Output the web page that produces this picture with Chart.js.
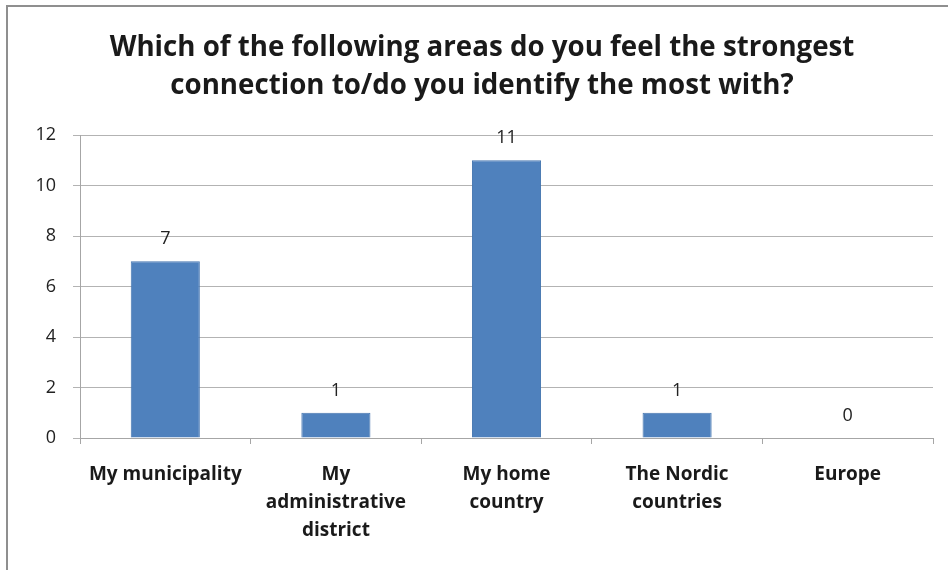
<!DOCTYPE html>
<html>
<head>
<meta charset="utf-8">
<script src="https://cdn.jsdelivr.net/npm/chart.js@4"></script>
<style>
  html, body { margin: 0; padding: 0; background: #fff; }
  #wrap { position: absolute; left: 0; top: 0; width: 948px; height: 570px; }
  #frame {
    position: absolute; left: 6px; top: 5px; right: 0; bottom: 0;
    border-left: 2px solid #8f8f8f; border-top: 2px solid #8f8f8f;
    pointer-events: none;
  }
</style>
</head>
<body>
<div id="wrap">
  <canvas id="chart" width="948" height="570"></canvas>
  <div id="frame"></div>
</div>
<script>
const titleLines = [
  'Which of the following areas do you feel the strongest',
  'connection to/do you identify the most with?'
];
const categories = [
  ['My municipality'],
  ['My', 'administrative', 'district'],
  ['My home', 'country'],
  ['The Nordic', 'countries'],
  ['Europe']
];
const counts = [7, 1, 11, 1, 0];
const yTicks = [0, 2, 4, 6, 8, 10, 12];

const FONT = '"Open Sans", Lato, sans-serif';

// Prints each bar's value a little above its top edge
const valueLabels = {
  id: 'valueLabels',
  afterDatasetsDraw(chart) {
    const ctx = chart.ctx;
    const meta = chart.getDatasetMeta(0);
    ctx.save();
    ctx.font = '18px ' + FONT;
    ctx.fillStyle = '#222';
    ctx.textAlign = 'center';
    ctx.textBaseline = 'middle';
    meta.data.forEach((bar, i) => {
      ctx.fillText(String(counts[i]), bar.x, bar.y - 22);
    });
    ctx.restore();
  }
};

new Chart(document.getElementById('chart'), {
  type: 'bar',
  data: {
    labels: categories,
    datasets: [{
      data: counts,
      backgroundColor: '#4f81bd',
      borderColor: '#4576b0',
      borderWidth: 1,
      categoryPercentage: 1,
      barPercentage: 0.405
    }]
  },
  options: {
    responsive: false,
    animation: false,
    layout: { padding: { left: 31, right: 15, top: 0, bottom: 0 } },
    plugins: {
      legend: { display: false },
      tooltip: { enabled: false },
      title: {
        display: true,
        text: titleLines,
        color: '#1a1a1a',
        font: { family: FONT, size: 27.7, weight: 'bold', lineHeight: '38px' },
        padding: { top: 29, bottom: 30 }
      }
    },
    scales: {
      x: {
        grid: {
          offset: true,
          drawOnChartArea: false,
          drawTicks: true,
          tickLength: 6,
          color: '#a6a6a6'
        },
        border: { color: '#a6a6a6', width: 1 },
        ticks: {
          color: '#1a1a1a',
          padding: 17,
          maxRotation: 0,
          autoSkip: false,
          font: { family: FONT, size: 19, weight: 'bold', lineHeight: '28px' }
        },
        afterFit(scale) { scale.height = 132; }
      },
      y: {
        min: 0,
        max: 12,
        afterBuildTicks(scale) { scale.ticks = yTicks.map(v => ({ value: v })); },
        grid: { color: '#b3b3b3', tickLength: 7 },
        border: { color: '#a6a6a6', width: 1 },
        ticks: {
          color: '#222',
          padding: 17,
          font: { family: FONT, size: 18 }
        },
        afterFit(scale) { scale.width = 49; }
      }
    }
  },
  plugins: [valueLabels]
});
</script>
</body>
</html>
